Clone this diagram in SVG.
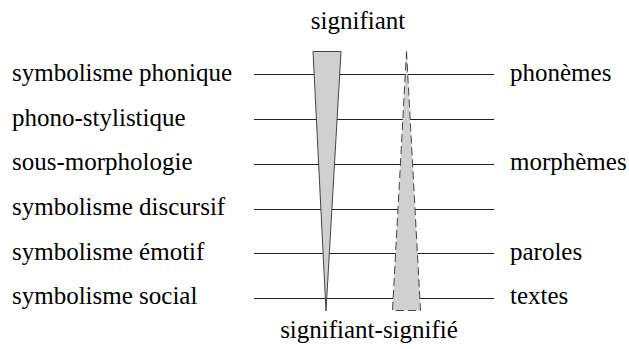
<svg xmlns="http://www.w3.org/2000/svg" width="629" height="349" viewBox="0 0 629 349">
<style>
text{font-family:'Liberation Serif','Times New Roman',serif;font-size:25px;fill:#000}
.ln{stroke:#222;stroke-width:1}
.wedge{fill:#d0d0d0;stroke:#444;stroke-width:1}
.dash{stroke-dasharray:8 4}
</style>
<rect width="629" height="349" fill="#fff"/>
<g id="connectors">
<line class="ln" x1="254" y1="74.5" x2="494" y2="74.5"/>
<line class="ln" x1="254" y1="119.5" x2="494" y2="119.5"/>
<line class="ln" x1="254" y1="164.5" x2="494" y2="164.5"/>
<line class="ln" x1="254" y1="209.5" x2="494" y2="209.5"/>
<line class="ln" x1="254" y1="253.5" x2="494" y2="253.5"/>
<line class="ln" x1="254" y1="298.5" x2="494" y2="298.5"/>
</g>
<g id="wedge-signifiant"><polygon class="wedge" points="313,51.5 341,51.5 326,311"/></g>
<g id="wedge-signifie"><polygon class="wedge dash" points="406.5,51.5 420.5,310.5 392.5,310.5"/></g>
<g id="title-top"><text x="358" y="29" text-anchor="middle">signifiant</text></g>
<g id="title-bottom"><text x="369" y="338" text-anchor="middle">signifiant-signifié</text></g>
<g id="left-labels">
<text x="12" y="81">symbolisme phonique</text>
<text x="12" y="126">phono-stylistique</text>
<text x="12" y="170">sous-morphologie</text>
<text x="12" y="215">symbolisme discursif</text>
<text x="12" y="260">symbolisme émotif</text>
<text x="12" y="304">symbolisme social</text>
</g>
<g id="right-labels">
<text x="510" y="81">phonèmes</text>
<text x="510" y="170">morphèmes</text>
<text x="510" y="260">paroles</text>
<text x="510" y="304">textes</text>
</g>
</svg>
